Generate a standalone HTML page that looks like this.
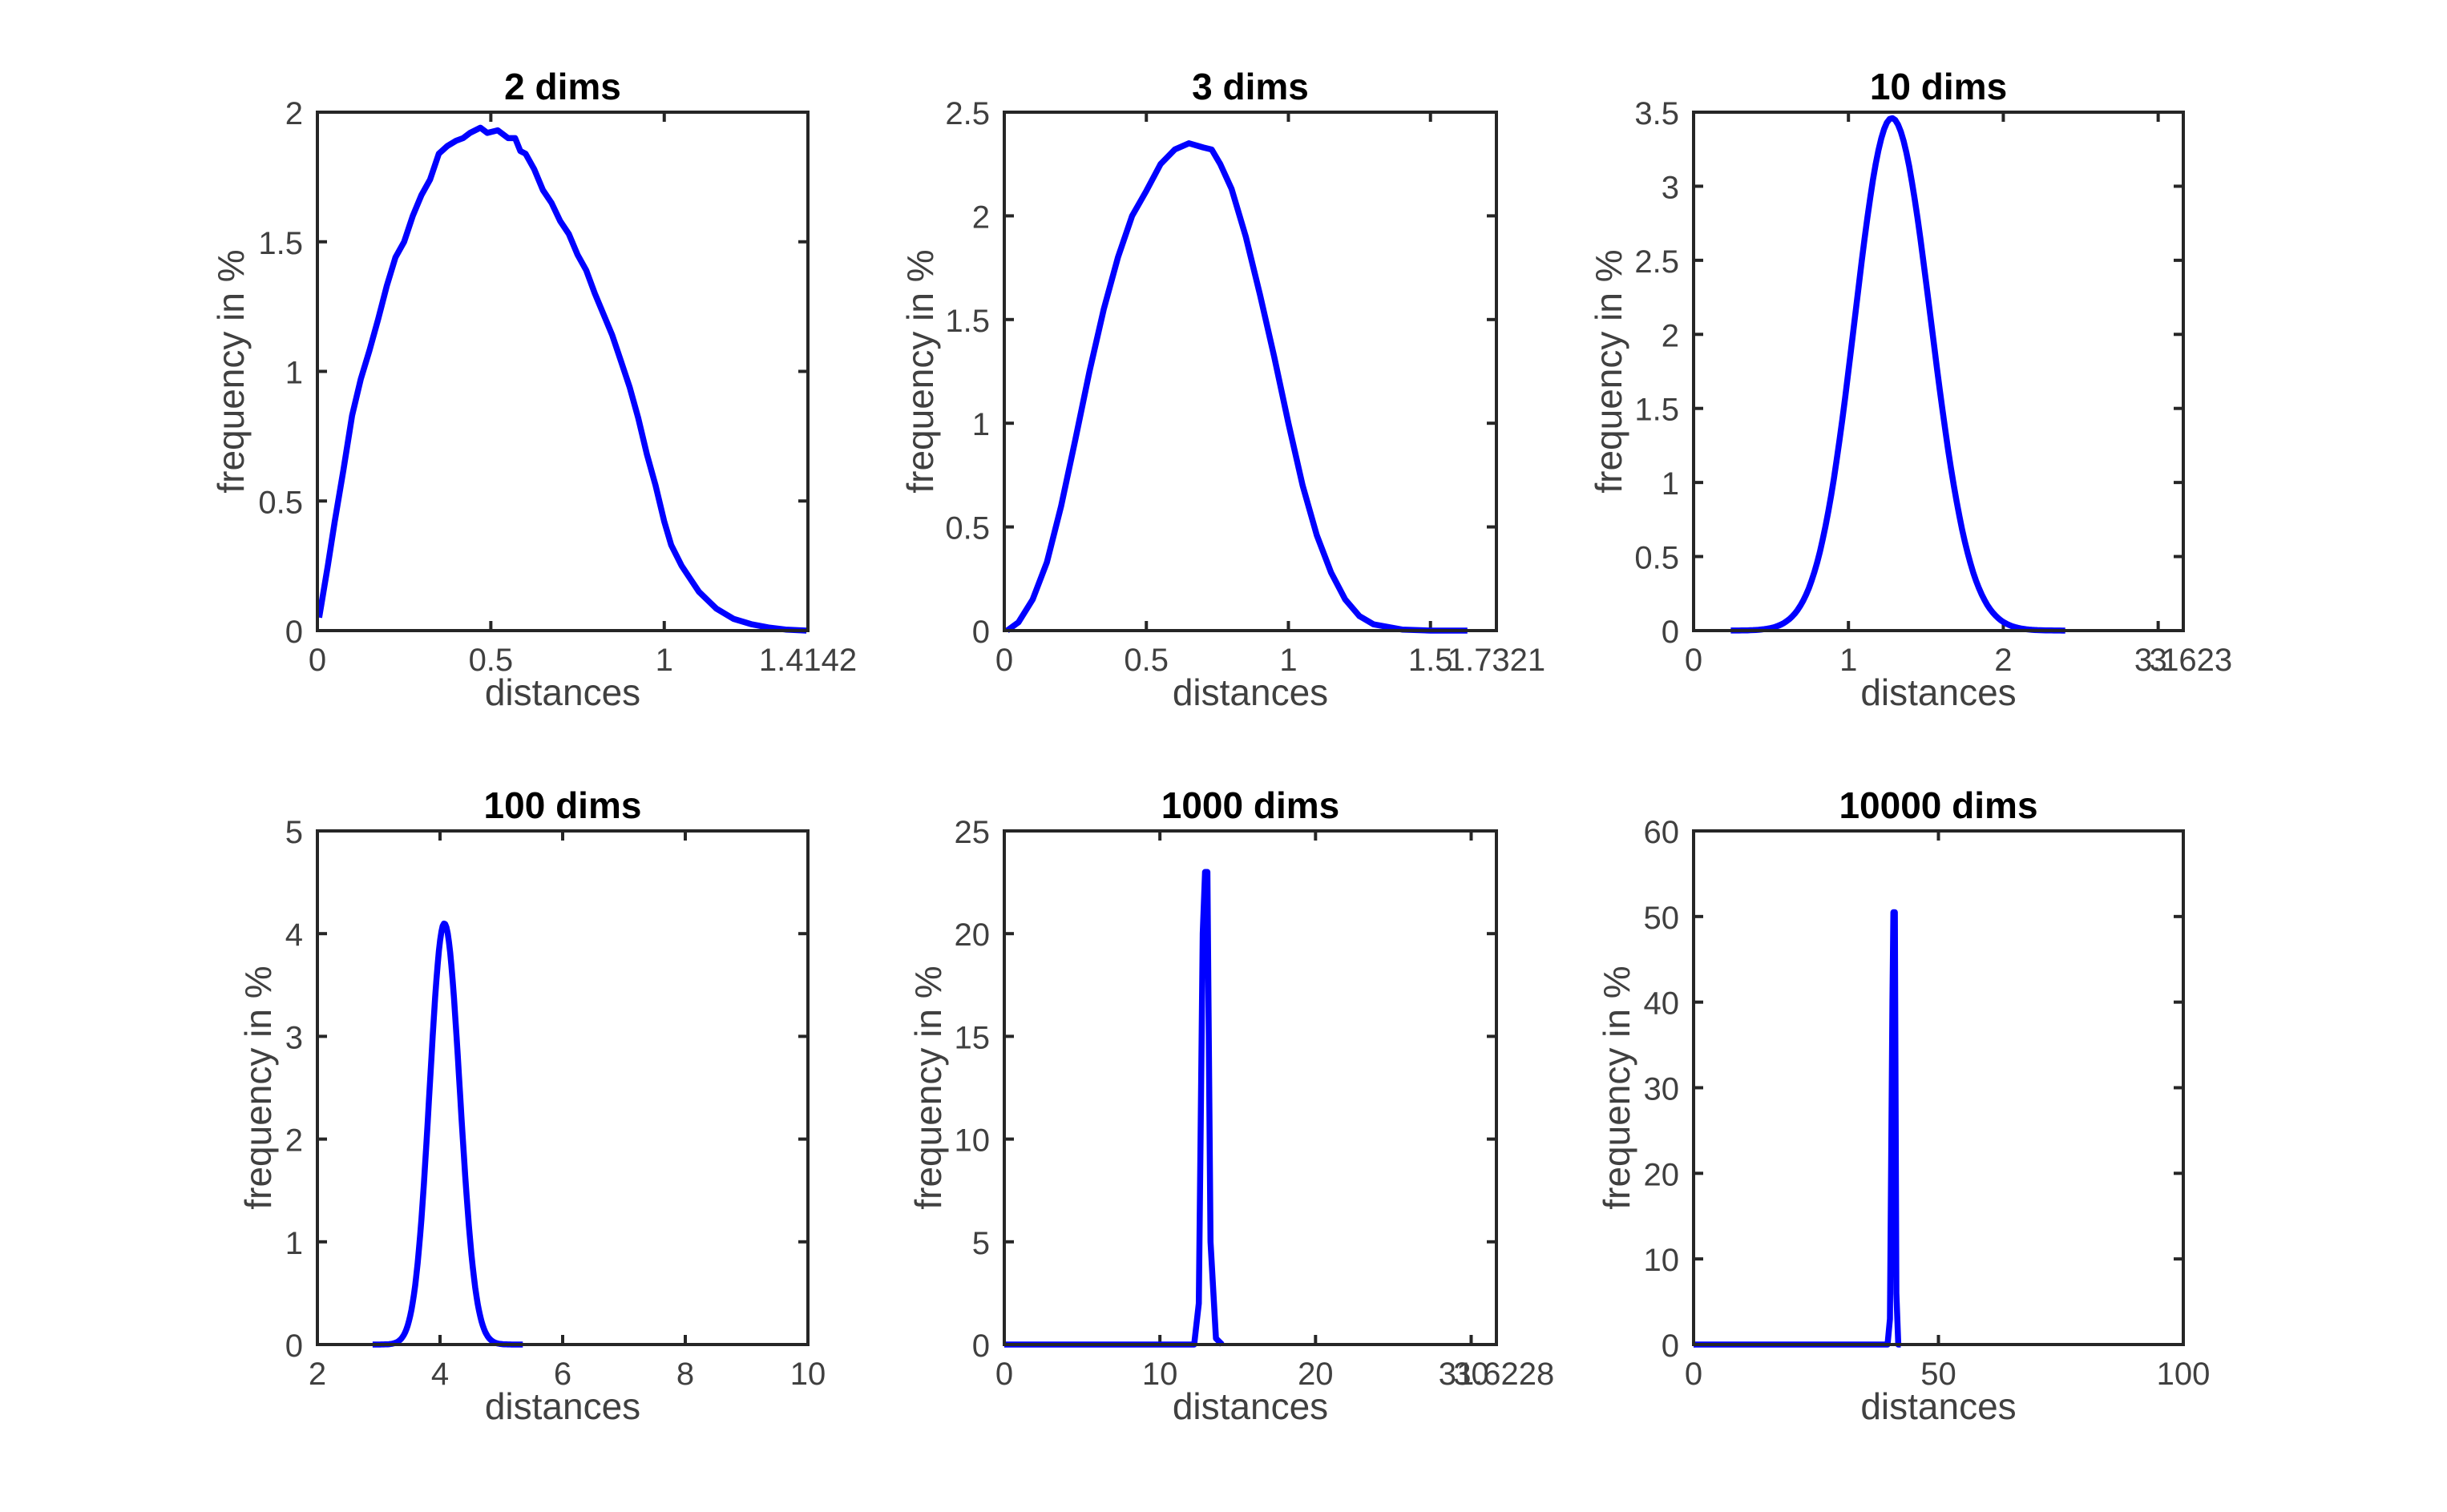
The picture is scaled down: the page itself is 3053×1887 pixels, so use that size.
<!DOCTYPE html>
<html><head><meta charset="utf-8"><style>
html,body{margin:0;padding:0;background:#fff;}
svg{display:block;}
text{font-family:"Liberation Sans",sans-serif;}
</style></head><body>
<svg id="s" xmlns="http://www.w3.org/2000/svg" width="3053" height="1887" viewBox="0 0 3053 1887"></svg>
<script>
const svg=document.getElementById('s');
let out='<rect width="3053" height="1887" fill="#fff"/>';
function gauss(mu,s,A,a,b,n,skew){const p=[];for(let i=0;i<=n;i++){const x=a+(b-a)*i/n;const ss=(x>mu&&skew)?s*skew:s;p.push([x,A*Math.exp(-0.5*((x-mu)/ss)**2)]);}return p;}
const plots=[
 {L:396,R:1008,T:140,B:787,title:'2 dims',xmin:0,xmax:1.4142,ymax:2,xt:[[0,'0'],[0.5,'0.5'],[1,'1'],[1.4142,'1.4142']],yt:[0,0.5,1,1.5,2],ylx:288,
  d:[[0.005,0.05],[0.03,0.25],[0.05,0.42],[0.075,0.62],[0.1,0.83],[0.125,0.97],[0.15,1.08],[0.175,1.2],[0.2,1.33],[0.225,1.44],[0.25,1.5],[0.275,1.6],[0.3,1.68],[0.325,1.74],[0.35,1.84],[0.375,1.87],[0.4,1.89],[0.42,1.9],[0.44,1.92],[0.47,1.94],[0.49,1.92],[0.52,1.93],[0.55,1.9],[0.57,1.9],[0.585,1.85],[0.6,1.84],[0.625,1.78],[0.65,1.7],[0.675,1.65],[0.7,1.58],[0.725,1.53],[0.75,1.45],[0.775,1.39],[0.8,1.3],[0.825,1.22],[0.85,1.14],[0.875,1.04],[0.9,0.94],[0.925,0.82],[0.95,0.68],[0.975,0.56],[1.0,0.42],[1.02,0.33],[1.05,0.25],[1.075,0.2],[1.1,0.15],[1.15,0.085],[1.2,0.045],[1.25,0.025],[1.3,0.012],[1.35,0.004],[1.41,0]]},
 {L:1253,R:1867,T:140,B:787,title:'3 dims',xmin:0,xmax:1.7321,ymax:2.5,xt:[[0,'0'],[0.5,'0.5'],[1,'1'],[1.5,'1.5'],[1.7321,'1.7321']],yt:[0,0.5,1,1.5,2,2.5],ylx:1148,
  d:[[0.01,0],[0.05,0.04],[0.1,0.15],[0.15,0.33],[0.2,0.6],[0.25,0.92],[0.3,1.25],[0.35,1.55],[0.4,1.8],[0.45,2.0],[0.5,2.12],[0.55,2.25],[0.6,2.32],[0.65,2.35],[0.7,2.33],[0.73,2.32],[0.76,2.25],[0.8,2.13],[0.85,1.9],[0.9,1.62],[0.95,1.32],[1.0,1.0],[1.05,0.7],[1.1,0.46],[1.15,0.28],[1.2,0.15],[1.25,0.07],[1.3,0.03],[1.4,0.005],[1.5,0],[1.63,0]]},
 {L:2113,R:2724,T:140,B:787,title:'10 dims',xmin:0,xmax:3.1623,ymax:3.5,xt:[[0,'0'],[1,'1'],[2,'2'],[3,'3'],[3.1623,'3.1623']],yt:[0,0.5,1,1.5,2,2.5,3,3.5],ylx:2007,
  d:gauss(1.28,0.24,3.46,0.24,2.4,120,1.05)},
 {L:396,R:1008,T:1037,B:1678,title:'100 dims',xmin:2,xmax:10,ymax:5,xt:[[2,'2'],[4,'4'],[6,'6'],[8,'8'],[10,'10']],yt:[0,1,2,3,4,5],ylx:322,
  d:gauss(4.07,0.24,4.1,2.9,5.35,120,1.05)},
 {L:1253,R:1867,T:1037,B:1678,title:'1000 dims',xmin:0,xmax:31.6228,ymax:25,xt:[[0,'0'],[10,'10'],[20,'20'],[30,'30'],[31.6228,'31.6228']],yt:[0,5,10,15,20,25],ylx:1158,
  d:[[0,0],[12.2,0],[12.5,2],[12.75,20],[12.9,23],[13.05,23],[13.25,5],[13.6,0.3],[14.0,0]]},
 {L:2113,R:2724,T:1037,B:1678,title:'10000 dims',xmin:0,xmax:100,ymax:60,xt:[[0,'0'],[50,'50'],[100,'100']],yt:[0,10,20,30,40,50,60],ylx:2017,
  d:[[0,0],[39.6,0],[40.1,3],[40.6,40],[40.8,50.5],[41.1,50.5],[41.4,6],[41.8,0],[42.3,0]]}
];
for(const p of plots){
  const X=x=>p.L+(x-p.xmin)/(p.xmax-p.xmin)*(p.R-p.L);
  const Y=y=>p.B-y/p.ymax*(p.B-p.T);
  const cx=(p.L+p.R)/2;
  out+=`<text x="${cx}" y="${p.T-16}" text-anchor="middle" font-size="46" font-weight="bold" fill="#000">${p.title}</text>`;
  for(const [v,l] of p.xt){const x=X(v);
    out+=`<line x1="${x}" y1="${p.B}" x2="${x}" y2="${p.B-12}" stroke="#262626" stroke-width="4"/><line x1="${x}" y1="${p.T}" x2="${x}" y2="${p.T+12}" stroke="#262626" stroke-width="4"/>`;
    out+=`<text x="${x}" y="${p.B+50}" text-anchor="middle" font-size="40" fill="#404040">${l}</text>`;}
  for(const v of p.yt){const y=Y(v);
    out+=`<line x1="${p.L}" y1="${y}" x2="${p.L+12}" y2="${y}" stroke="#262626" stroke-width="4"/><line x1="${p.R}" y1="${y}" x2="${p.R-12}" y2="${y}" stroke="#262626" stroke-width="4"/>`;
    out+=`<text x="${p.L-18}" y="${y+15}" text-anchor="end" font-size="40" fill="#404040">${v}</text>`;}
  out+=`<text x="${cx}" y="${p.B+93}" text-anchor="middle" font-size="46" fill="#404040">distances</text>`;
  const my=(p.T+p.B)/2;
  out+=`<text transform="translate(${p.ylx+16},${my}) rotate(-90)" text-anchor="middle" font-size="46" fill="#404040">frequency in %</text>`;
  out+=`<polyline points="${p.d.map(q=>X(q[0]).toFixed(1)+','+Y(q[1]).toFixed(1)).join(' ')}" fill="none" stroke="#0000ff" stroke-width="7.5" stroke-linejoin="round"/>`;
  out+=`<rect x="${p.L}" y="${p.T}" width="${p.R-p.L}" height="${p.B-p.T}" fill="none" stroke="#262626" stroke-width="4"/>`;
}
svg.innerHTML=out;
</script>
</body></html>
